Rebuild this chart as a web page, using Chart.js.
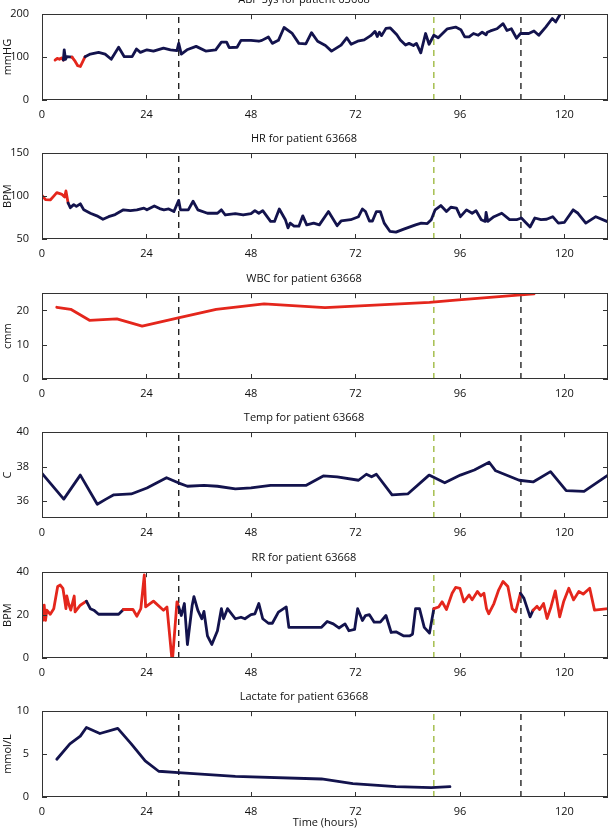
<!DOCTYPE html>
<html>
<head>
<meta charset="utf-8">
<script src="https://cdn.jsdelivr.net/npm/chart.js@4.4.1/dist/chart.umd.min.js"></script>
<style>
  body { margin: 0; background: #fff; width: 615px; height: 828px; overflow: hidden; position: relative; }
  canvas { position: absolute; left: 0; }
</style>
</head>
<body>
<canvas id="c0" width="615" height="140" style="top:-8px"></canvas>
<canvas id="c1" width="615" height="140" style="top:131px"></canvas>
<canvas id="c2" width="615" height="140" style="top:271px"></canvas>
<canvas id="c3" width="615" height="140" style="top:410px"></canvas>
<canvas id="c4" width="615" height="140" style="top:550px"></canvas>
<canvas id="c5" width="615" height="140" style="top:689px"></canvas>
<script>
// hours, shared x axis
const xTicks = [0, 24, 48, 72, 96, 120];
const markerTimes = [31.4, 90, 110];

// ABP systolic
const abpTime = [3, 3.5, 4, 4.5, 4.9, 5.1, 5.4, 5.7, 6.9, 7.5, 8.2, 8.8, 9.9, 11.1, 13, 14.5, 15.9, 17.6, 18.9, 20.7,
  21.7, 22.6, 24.1, 25.6, 27.9, 29.5, 31, 31.4, 32, 33.3, 35.4, 37.6, 39.9, 41.2, 42.4, 43, 44.8, 45.7, 48, 49.8,
  50.5, 52, 52.9, 54.3, 55.6, 57.4, 59, 60.6, 61.9, 63.3, 65.1, 66.5, 68.7, 70, 71, 72.5, 74, 75.5, 76.5, 77,
  77.5, 78, 79, 80, 81.5, 82.3, 83.5, 84.3, 85.3, 86, 87, 88.1, 88.9, 90, 91, 93.1, 95, 96.2, 97.1, 98.1,
  99.1, 100.2, 101.1, 102, 102.3, 103, 104.5, 105.9, 106.8, 107.8, 109, 109.9, 111.8, 113, 114.1, 115.7, 117.2, 118, 119.6];
const abpValue = [93, 97, 95, 98, 93, 117, 95, 101, 100, 92, 80, 78, 101, 107, 111, 107, 95, 123, 101, 101,
  119, 111, 117, 114, 121, 117, 115, 132, 107, 117, 125, 114, 117, 135, 135, 122, 123, 139, 139, 137,
  139, 147, 132, 139, 169, 156, 132, 131, 157, 137, 127, 114, 128, 145, 130, 137, 140, 150, 160, 148,
  158, 150, 167, 168, 152, 140, 128, 132, 127, 132, 110, 155, 130, 151, 145, 166, 170, 164, 147, 147,
  155, 151, 158, 152, 158, 161, 166, 178, 162, 166, 144, 155, 155, 161, 151, 170, 190, 182, 210];
const abpRed = [[3, 4.95], [6.95, 9.95]];

// heart rate
const hrTime = [0, 0.8, 1.9, 2.7, 3.4, 4.6, 5.2, 5.5, 6, 6.5, 7.3, 7.9, 8.8, 9.6, 11.1, 12.6, 14, 15.3, 16.8, 18.7,
  20.3, 21.8, 23.4, 24.1, 25.8, 27, 28, 29.1, 30.3, 31.4, 31.8, 33.6, 34.7, 35.8, 38, 40.3, 41.2, 42.1, 44.4, 46.2,
  48, 48.9, 49.8, 50.7, 52.5, 53.4, 54.5, 55.9, 56.5, 57, 57.9, 59, 59.9, 60.8, 62.4, 63.7, 65.8, 67.8, 68.7, 70.9,
  72.7, 73.6, 74.3, 75.2, 75.9, 76.8, 77.7, 78.6, 79.9, 81.3, 83.1, 85.8, 87.1, 88.5, 89.4, 90.3, 91.6, 92.9, 93.9, 95.2,
  96.1, 97.5, 98.8, 99.7, 100.9, 101.8, 102, 102.4, 103.8, 105.6, 107.4, 109, 110.1, 112.1, 113.2, 114.6, 115.9, 117.3, 118.6, 120,
  122, 123.1, 124.9, 127.2, 130];
const hrValue = [100.8, 96, 95.5, 100, 104, 102, 99, 106, 92, 86.5, 90, 88, 91, 84, 80, 77, 73, 76, 78.5, 84,
  83, 84, 86, 84, 88.5, 85.5, 84, 85, 82, 95, 84, 84, 94, 84, 80, 80, 84, 78, 79.5, 78,
  79.5, 83, 80, 83, 70.5, 70.5, 85, 72.5, 63, 68.5, 65, 65, 77, 66.5, 68.5, 66.5, 82, 65.5, 71, 72.5,
  76, 85, 82, 71, 71, 82, 82, 68.5, 59, 58, 61.5, 66.5, 68.5, 68, 72.5, 84, 89, 82, 87, 86,
  76, 84, 80, 83, 72.5, 70.5, 81, 70.5, 76, 80, 72.5, 72.5, 74.5, 64, 74.5, 72.5, 73, 76, 68.5, 69.5,
  84, 80, 68.5, 76, 70];
const hrRed = [[0, 6]];

// white blood cells
const wbcTime = [3.4, 6.6, 10.9, 14, 17.2, 23, 31.3, 40, 51, 65, 89, 95, 110, 113];
const wbcValue = [20.9, 20.3, 17.1, 17.3, 17.5, 15.4, 17.8, 20.3, 21.9, 20.8, 22.3, 23, 24.5, 24.8];
const wbcRed = [[0, 130]];

// temperature
const tempTime = [0, 5, 8.8, 12.7, 14.7, 16.5, 20.5, 24.1, 28.6, 31.3, 33.4, 37.2, 40.3, 44.4, 48, 52.5, 56.1, 60.6, 64.6,
  67.8, 72.7, 74.5, 75.7, 76.8, 80.4, 84, 88.9, 92.5, 96.1, 99.3, 102.7, 104.2, 109.6, 112.8, 116.8, 120.4, 124.5, 130];
const tempValue = [37.6, 36.1, 37.5, 35.8, 36.1, 36.35, 36.4, 36.75, 37.35, 37.05, 36.85, 36.9, 36.85, 36.7, 36.75, 36.9, 36.9, 36.9, 37.45,
  37.4, 37.2, 37.55, 37.4, 37.55, 36.35, 36.4, 37.5, 37.05, 37.5, 37.8, 38.25, 37.75, 37.2, 37.1, 37.7, 36.6, 36.55, 37.5];
const tempRed = [];

// respiratory rate
const rrTime = [0, 0.2, 0.5, 0.8, 1.1, 1.9, 2.7, 3.6, 4.2, 4.8, 5.2, 5.5, 5.7, 6.1, 6.6, 7.4, 7.6, 8.8, 10.2, 11.1,
  11.9, 13, 15.7, 17.6, 18.7, 20.9, 21.8, 22.7, 23.5, 23.8, 25.6, 27.9, 28.7, 29.8, 30, 31, 31.4, 32, 32.7, 33.4,
  34.5, 34.9, 35.8, 36.7, 37.2, 38, 39, 40.3, 41.2, 41.7, 42.6, 44.4, 45.7, 46.6, 48, 48.9, 49.8, 50.7, 52, 52.9,
  54.3, 56.1, 56.7, 64.2, 65.5, 66.9, 68.2, 69.6, 70.5, 71.8, 72.5, 73.6, 74.3, 75.2, 76.3, 77.7, 79, 80.2, 81.3, 83.1,
  84.4, 85.1, 85.8, 86.7, 87.8, 89, 90, 91.1, 91.9, 92.9, 94.2, 95, 96, 96.9, 98.1, 98.8, 100, 100.8, 101.5, 102.1,
  102.6, 103.8, 104.9, 105.9, 107, 108, 108.8, 109.9, 110.7, 112.1, 112.8, 113.7, 114.3, 115.2, 116, 116.9, 117.9, 118.9, 119.8, 121,
  122.1, 123.3, 124.3, 125.8, 126.9, 130];
const rrValue = [21.5, 17.6, 24.6, 17.5, 22.3, 20.4, 23, 33.3, 34, 32.5, 27.3, 23, 28.9, 25.4, 22.3, 28.9, 21.5, 24.6, 26.5, 23,
  22.3, 20.4, 20.4, 20.4, 22.6, 22.6, 19.5, 23, 38.7, 23.8, 26.5, 22.3, 23.8, 0.3, 0, 26.2, 23.8, 19.8, 25.4, 6.3,
  24.6, 28.6, 22.2, 18.3, 21.7, 10.3, 6.3, 12.7, 23, 18.3, 23, 18.3, 19, 18.3, 20.2, 20.6, 25.4, 18.3, 16.2, 16.2,
  21.4, 23.8, 14.3, 14.3, 17, 15.9, 14, 15.9, 12.7, 13.3, 23, 17.5, 19.8, 20.2, 16.7, 16.7, 19.8, 11.9, 12.2, 10.3,
  10.3, 11.1, 23, 23, 14.3, 11.6, 23, 23.8, 26.2, 22.6, 30.2, 32.9, 32.5, 26.2, 29.4, 27.1, 31, 29, 30.2, 23,
  20.6, 25.4, 31.8, 35.7, 33.3, 23, 21.5, 30.2, 27.8, 19.2, 22.3, 24.1, 22.6, 25.4, 18.4, 23.8, 31.3, 19.2, 26.2, 32.5,
  27.1, 31, 29.8, 32.5, 22.3, 23];
const rrRed = [[0, 10.6], [18.2, 31.4], [90, 109.9], [113, 130]];

// lactate
const lacTime = [3.4, 6.4, 8.8, 10.2, 13.3, 17.4, 20.5, 23.7, 26.8, 31.3, 44.4, 64.2, 71.4, 81.3, 89.4, 93.7];
const lacValue = [4.4, 6.2, 7.1, 8.1, 7.4, 8.0, 6.2, 4.2, 3.0, 2.85, 2.4, 2.1, 1.55, 1.2, 1.1, 1.2];
const lacRed = [];

const panelTitles = ['ABP Sys for patient 63668', 'HR for patient 63668', 'WBC for patient 63668',
  'Temp for patient 63668', 'RR for patient 63668', 'Lactate for patient 63668'];
const panelUnits = ['mmHG', 'BPM', 'cmm', 'C', 'BPM', 'mmol/L'];
const yRanges = [[0, 200], [50, 150], [0, 25], [35, 40], [0, 40], [0, 10]];
const yTicks = [[0, 100, 200], [50, 100, 150], [0, 10, 20], [36, 38, 40], [0, 20, 40], [0, 5, 10]];

const NAVY = '#13134d';
const RED = '#e4261c';
const MARKER_COLORS = ['#222222', '#8fae22', '#222222'];
const FONT = 'Open Sans';

const series = [
  [abpTime, abpValue, abpRed],
  [hrTime, hrValue, hrRed],
  [wbcTime, wbcValue, wbcRed],
  [tempTime, tempValue, tempRed],
  [rrTime, rrValue, rrRed],
  [lacTime, lacValue, lacRed],
];

const boxPlugin = {
  id: 'box',
  afterDraw(chart) {
    const { ctx, chartArea: { left, top, right, bottom }, scales: { x, y } } = chart;
    const TL = 5;
    ctx.save();
    ctx.strokeStyle = '#333';
    ctx.lineWidth = 1;
    ctx.strokeRect(Math.round(left) + 0.5, Math.round(top) + 0.5, Math.round(right - left) - 1, Math.round(bottom - top) - 1);
    ctx.beginPath();
    x.ticks.forEach((t) => {
      const px = Math.round(x.getPixelForValue(t.value)) + 0.5;
      ctx.moveTo(px, bottom); ctx.lineTo(px, bottom - TL);
      ctx.moveTo(px, top); ctx.lineTo(px, top + TL);
    });
    y.ticks.forEach((t) => {
      const py = Math.round(y.getPixelForValue(t.value)) + 0.5;
      ctx.moveTo(left, py); ctx.lineTo(left + TL, py);
      ctx.moveTo(right, py); ctx.lineTo(right - TL, py);
    });
    ctx.stroke();
    ctx.restore();
  },
};

const inRanges = (t, ranges) => ranges.some(([a, b]) => t >= a && t <= b);

series.forEach(([times, values, red], i) => {
  const [yMin, yMax] = yRanges[i];
  const points = times.map((t, k) => ({ x: t, y: values[k] }));
  const isLast = i === series.length - 1;

  const markers = markerTimes.map((t, m) => ({
    data: [{ x: t, y: yMin }, { x: t, y: yMax }],
    borderColor: MARKER_COLORS[m],
    borderWidth: m === 1 ? 1.2 : 1.4,
    borderDash: [6, 5],
    pointRadius: 0,
    clip: 0,
  }));

  new Chart(document.getElementById('c' + i), {
    type: 'line',
    data: {
      datasets: [
        {
          data: points,
          borderColor: NAVY,
          borderWidth: 2.8,
          borderJoinStyle: 'round',
          borderCapStyle: 'round',
          pointRadius: 0,
          tension: 0,
          segment: {
            borderColor: (ctx) => {
              const mid = (times[ctx.p0DataIndex] + times[ctx.p1DataIndex]) / 2;
              return inRanges(mid, red) ? RED : NAVY;
            },
          },
        },
        ...markers,
      ],
    },
    options: {
      responsive: false,
      animation: false,
      events: [],
      layout: { padding: { top: 0, right: 7, left: 0, bottom: 0 } },
      scales: {
        x: {
          type: 'linear',
          min: 0,
          max: 130,
          grid: { display: false },
          border: { display: false },
          afterBuildTicks: (s) => { s.ticks = xTicks.map((v) => ({ value: v })); },
          afterFit: (s) => { s.height = 32; },
          ticks: { padding: 0, color: '#111', font: { size: 11, family: FONT }, maxRotation: 0 },
          title: {
            display: isLast,
            text: 'Time (hours)',
            color: '#111',
            font: { size: 11, family: FONT },
            padding: { top: 0, bottom: 0 },
          },
        },
        y: {
          min: yMin,
          max: yMax,
          grid: { display: false },
          border: { display: false },
          afterBuildTicks: (s) => { s.ticks = yTicks[i].map((v) => ({ value: v })); },
          afterFit: (s) => { s.width = 42; },
          ticks: { padding: 5, color: '#111', font: { size: 11, family: FONT } },
          title: {
            display: true,
            text: panelUnits[i],
            color: '#111',
            font: { size: 11, family: FONT },
            padding: { top: 1, bottom: 0 },
          },
        },
      },
      plugins: {
        legend: { display: false },
        tooltip: { enabled: false },
        title: {
          display: true,
          text: panelTitles[i],
          color: '#111',
          font: { size: 11, family: FONT, weight: 'normal' },
          padding: { top: 1, bottom: 8 },
        },
      },
    },
    plugins: [boxPlugin],
  });
});
</script>
</body>
</html>
